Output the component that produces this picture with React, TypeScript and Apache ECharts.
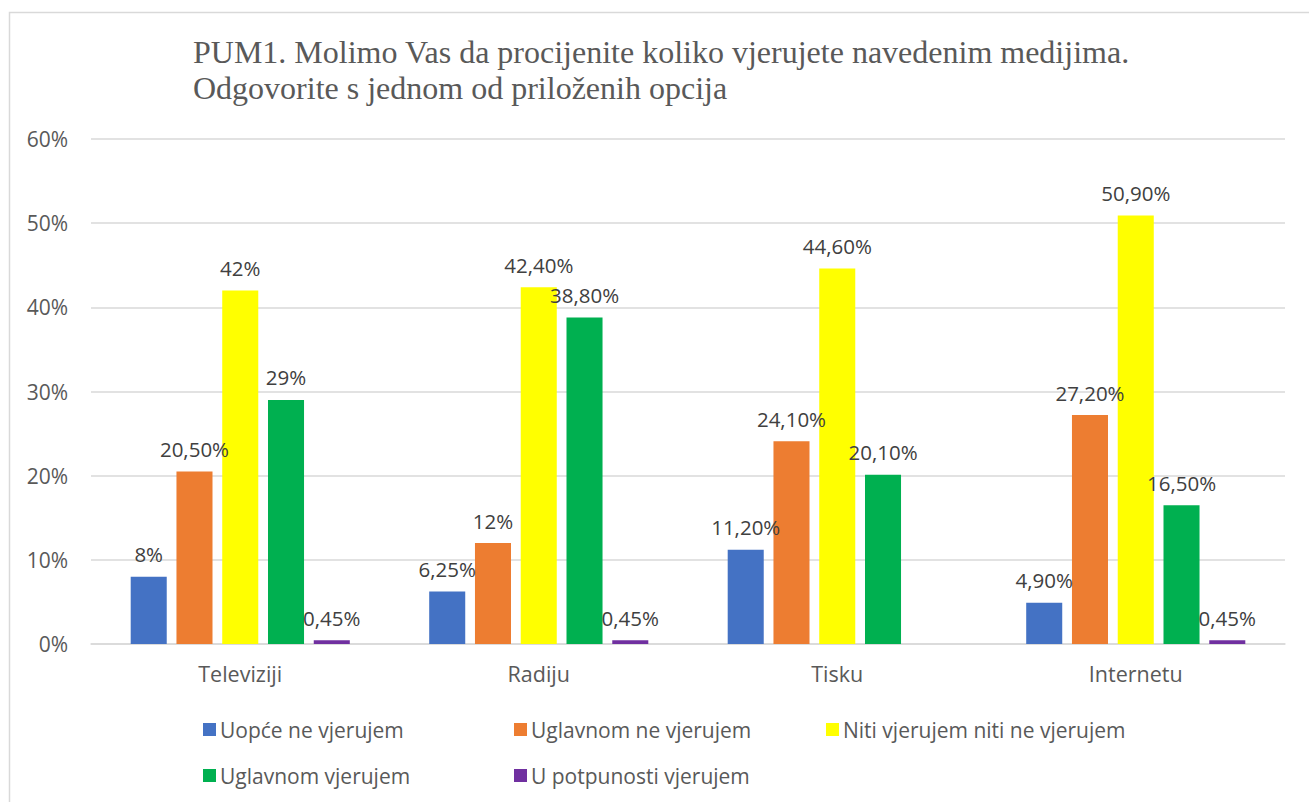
import React, { useEffect, useRef } from "react";
import * as echarts from "echarts";

const categories = ["Televiziji", "Radiju", "Tisku", "Internetu"];
const seriesNames = [
  "Uopće ne vjerujem",
  "Uglavnom ne vjerujem",
  "Niti vjerujem niti ne vjerujem",
  "Uglavnom vjerujem",
  "U potpunosti vjerujem",
];
const colors = ["#4472C4", "#ED7D31", "#FFFF00", "#00B050", "#7030A0"];

const uopceNe = [8, 6.25, 11.2, 4.9];
const uglavnomNe = [20.5, 12, 24.1, 27.2];
const niti = [42, 42.4, 44.6, 50.9];
const uglavnom = [29, 38.8, 20.1, 16.5];
const uPotpunosti = [0.45, 0.45, null, 0.45];

const uopceNeLabels = ["8%", "6,25%", "11,20%", "4,90%"];
const uglavnomNeLabels = ["20,50%", "12%", "24,10%", "27,20%"];
const nitiLabels = ["42%", "42,40%", "44,60%", "50,90%"];
const uglavnomLabels = ["29%", "38,80%", "20,10%", "16,50%"];
const uPotpunostiLabels = ["0,45%", "0,45%", "", "0,45%"];

const yTicks = { min: 0, max: 60, interval: 10 };

const titleLines = [
  "PUM1. Molimo Vas da procijenite koliko vjerujete navedenim medijima.",
  "Odgovorite s jednom od priloženih opcija",
];

const allValues = [uopceNe, uglavnomNe, niti, uglavnom, uPotpunosti];
const allLabels = [uopceNeLabels, uglavnomNeLabels, nitiLabels, uglavnomLabels, uPotpunostiLabels];

const legendPos = [
  { left: 203, top: 719 },
  { left: 514, top: 719 },
  { left: 826, top: 719 },
  { left: 203, top: 765 },
  { left: 514, top: 765 },
];

export default function App() {
  const ref = useRef<HTMLDivElement>(null);
  useEffect(() => {
    if (!ref.current) return;
    const chart = echarts.init(ref.current, undefined, { renderer: "svg" });
    const sans = "Open Sans";
    const option: any = {
      animation: false,
      backgroundColor: "#ffffff",
      title: {
        text: titleLines.join("\n"),
        left: 188,
        top: 29,
        textStyle: {
          fontFamily: "Liberation Serif",
          fontSize: 32,
          fontWeight: "normal",
          color: "#595959",
          lineHeight: 36,
        },
      },
      graphic: [
        {
          type: "rect",
          shape: { x: 9.5, y: 12.5, width: 1320, height: 800 },
          style: { fill: "none", stroke: "#D9D9D9", lineWidth: 1.5 },
          silent: true,
        },
      ],
      legend: seriesNames.map((n, i) => ({
        data: [n],
        left: legendPos[i].left,
        top: legendPos[i].top,
        itemWidth: 13,
        itemHeight: 13,
        itemGap: 0,
        icon: "rect",
        padding: 0,
        textStyle: { fontFamily: sans, fontSize: 21, color: "#595959", padding: [0, 0, 0, -1] },
      })),
      grid: { left: 91, right: 24, top: 139, bottom: 158, containLabel: false },
      xAxis: {
        type: "category",
        data: categories,
        axisLine: { lineStyle: { color: "#D9D9D9", width: 1.5 } },
        axisTick: { show: false },
        axisLabel: { fontFamily: sans, fontSize: 21.5, color: "#595959", margin: 18 },
      },
      yAxis: {
        type: "value",
        min: yTicks.min,
        max: yTicks.max,
        interval: yTicks.interval,
        axisLabel: { formatter: "{value}%", fontFamily: sans, fontSize: 21, color: "#595959", margin: 23 },
        splitLine: { lineStyle: { color: "#D9D9D9", width: 1.5 } },
        axisLine: { show: false },
        axisTick: { show: false },
      },
      series: seriesNames.map((n, i) => ({
        name: n,
        type: "bar",
        data: allValues[i],
        barGap: "27%",
        barCategoryGap: "26.6%",
        itemStyle: { color: colors[i] },
        label: {
          show: true,
          position: "top",
          distance: 12,
          fontFamily: sans,
          fontSize: 20.5,
          color: "#404040",
          formatter: (p: any) => allLabels[i][p.dataIndex] || "",
        },
      })),
    };
    chart.setOption(option);
    return () => chart.dispose();
  }, []);
  return (
    <div
      ref={ref}
      style={{ position: "fixed", left: 0, top: 0, width: 1309, height: 802, background: "#fff" }}
    />
  );
}
